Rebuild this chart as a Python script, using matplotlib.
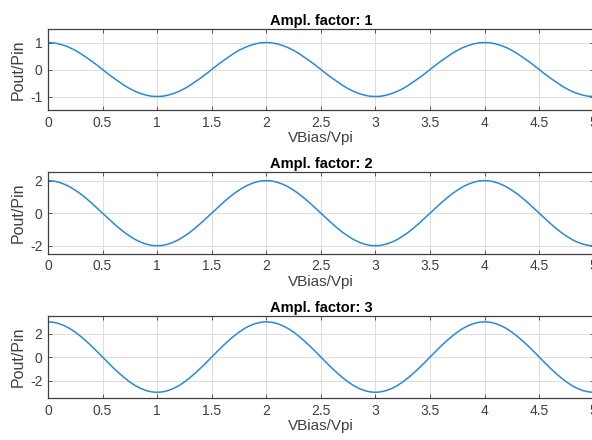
import matplotlib.pyplot as plt

plt.rcParams["font.family"] = ["Liberation Sans", "DejaVu Sans"]

# VBias/Vpi samples (step 0.05)
x = [0.00, 0.05, 0.10, 0.15, 0.20, 0.25, 0.30, 0.35, 0.40, 0.45,
     0.50, 0.55, 0.60, 0.65, 0.70, 0.75, 0.80, 0.85, 0.90, 0.95,
     1.00, 1.05, 1.10, 1.15, 1.20, 1.25, 1.30, 1.35, 1.40, 1.45,
     1.50, 1.55, 1.60, 1.65, 1.70, 1.75, 1.80, 1.85, 1.90, 1.95,
     2.00, 2.05, 2.10, 2.15, 2.20, 2.25, 2.30, 2.35, 2.40, 2.45,
     2.50, 2.55, 2.60, 2.65, 2.70, 2.75, 2.80, 2.85, 2.90, 2.95,
     3.00, 3.05, 3.10, 3.15, 3.20, 3.25, 3.30, 3.35, 3.40, 3.45,
     3.50, 3.55, 3.60, 3.65, 3.70, 3.75, 3.80, 3.85, 3.90, 3.95,
     4.00, 4.05, 4.10, 4.15, 4.20, 4.25, 4.30, 4.35, 4.40, 4.45,
     4.50, 4.55, 4.60, 4.65, 4.70, 4.75, 4.80, 4.85, 4.90, 4.95,
     5.00]

y1 = [1.00, 0.99, 0.95, 0.89, 0.81, 0.71, 0.59, 0.45, 0.31, 0.16,
      0.00, -0.16, -0.31, -0.45, -0.59, -0.71, -0.81, -0.89, -0.95, -0.99,
      -1.00, -0.99, -0.95, -0.89, -0.81, -0.71, -0.59, -0.45, -0.31, -0.16,
      0.00, 0.16, 0.31, 0.45, 0.59, 0.71, 0.81, 0.89, 0.95, 0.99,
      1.00, 0.99, 0.95, 0.89, 0.81, 0.71, 0.59, 0.45, 0.31, 0.16,
      0.00, -0.16, -0.31, -0.45, -0.59, -0.71, -0.81, -0.89, -0.95, -0.99,
      -1.00, -0.99, -0.95, -0.89, -0.81, -0.71, -0.59, -0.45, -0.31, -0.16,
      0.00, 0.16, 0.31, 0.45, 0.59, 0.71, 0.81, 0.89, 0.95, 0.99,
      1.00, 0.99, 0.95, 0.89, 0.81, 0.71, 0.59, 0.45, 0.31, 0.16,
      0.00, -0.16, -0.31, -0.45, -0.59, -0.71, -0.81, -0.89, -0.95, -0.99,
      -1.00]

y2 = [2.00, 1.98, 1.90, 1.78, 1.62, 1.41, 1.18, 0.91, 0.62, 0.31,
      0.00, -0.31, -0.62, -0.91, -1.18, -1.41, -1.62, -1.78, -1.90, -1.98,
      -2.00, -1.98, -1.90, -1.78, -1.62, -1.41, -1.18, -0.91, -0.62, -0.31,
      0.00, 0.31, 0.62, 0.91, 1.18, 1.41, 1.62, 1.78, 1.90, 1.98,
      2.00, 1.98, 1.90, 1.78, 1.62, 1.41, 1.18, 0.91, 0.62, 0.31,
      0.00, -0.31, -0.62, -0.91, -1.18, -1.41, -1.62, -1.78, -1.90, -1.98,
      -2.00, -1.98, -1.90, -1.78, -1.62, -1.41, -1.18, -0.91, -0.62, -0.31,
      0.00, 0.31, 0.62, 0.91, 1.18, 1.41, 1.62, 1.78, 1.90, 1.98,
      2.00, 1.98, 1.90, 1.78, 1.62, 1.41, 1.18, 0.91, 0.62, 0.31,
      0.00, -0.31, -0.62, -0.91, -1.18, -1.41, -1.62, -1.78, -1.90, -1.98,
      -2.00]

y3 = [3.00, 2.96, 2.85, 2.67, 2.43, 2.12, 1.76, 1.36, 0.93, 0.47,
      0.00, -0.47, -0.93, -1.36, -1.76, -2.12, -2.43, -2.67, -2.85, -2.96,
      -3.00, -2.96, -2.85, -2.67, -2.43, -2.12, -1.76, -1.36, -0.93, -0.47,
      0.00, 0.47, 0.93, 1.36, 1.76, 2.12, 2.43, 2.67, 2.85, 2.96,
      3.00, 2.96, 2.85, 2.67, 2.43, 2.12, 1.76, 1.36, 0.93, 0.47,
      0.00, -0.47, -0.93, -1.36, -1.76, -2.12, -2.43, -2.67, -2.85, -2.96,
      -3.00, -2.96, -2.85, -2.67, -2.43, -2.12, -1.76, -1.36, -0.93, -0.47,
      0.00, 0.47, 0.93, 1.36, 1.76, 2.12, 2.43, 2.67, 2.85, 2.96,
      3.00, 2.96, 2.85, 2.67, 2.43, 2.12, 1.76, 1.36, 0.93, 0.47,
      0.00, -0.47, -0.93, -1.36, -1.76, -2.12, -2.43, -2.67, -2.85, -2.96,
      -3.00]

factors = [1, 2, 3]
series = [y1, y2, y3]
ylims = [1.5, 2.5, 3.5]
yticks = [[-1, 0, 1], [-2, 0, 2], [-2, 0, 2]]
xticks = [0, 0.5, 1, 1.5, 2, 2.5, 3, 3.5, 4, 4.5, 5]
xticklabels = ["0", "0.5", "1", "1.5", "2", "2.5", "3", "3.5", "4", "4.5", "5"]

fig = plt.figure(figsize=(5.92, 4.4), dpi=100)
# [left, bottom, width, height] in figure fractions
positions = [
    [0.081, 0.750, 0.922, 0.184],
    [0.081, 0.423, 0.922, 0.185],
    [0.081, 0.095, 0.922, 0.187],
]

grey = "#404040"
for pos, f, ys, lim, yt in zip(positions, factors, series, ylims, yticks):
    ax = fig.add_axes(pos)
    ax.plot(x, ys, color="#2a8ad0", lw=1.1)
    ax.set_xlim(0, 5)
    ax.set_ylim(-lim, lim)
    ax.set_xticks(xticks)
    ax.set_xticklabels(xticklabels)
    ax.set_yticks(yt)
    ax.set_yticklabels([str(v) for v in yt])
    ax.grid(True, color="#dcdcdc", lw=0.7)
    ax.set_axisbelow(True)
    ax.tick_params(direction="in", length=3, width=0.6, colors=grey,
                   labelsize=10, top=True, right=True, pad=4)
    for s in ax.spines.values():
        s.set_color(grey)
        s.set_linewidth(0.9)
    ax.set_title(f"Ampl. factor: {f}", fontsize=10.5, fontweight="bold", pad=3)
    ax.set_xlabel("VBias/Vpi", fontsize=11, color=grey, labelpad=1)
    ax.set_ylabel("Pout/Pin", fontsize=11.5, color=grey, labelpad=3)

fig.savefig("out.png", dpi=100)
